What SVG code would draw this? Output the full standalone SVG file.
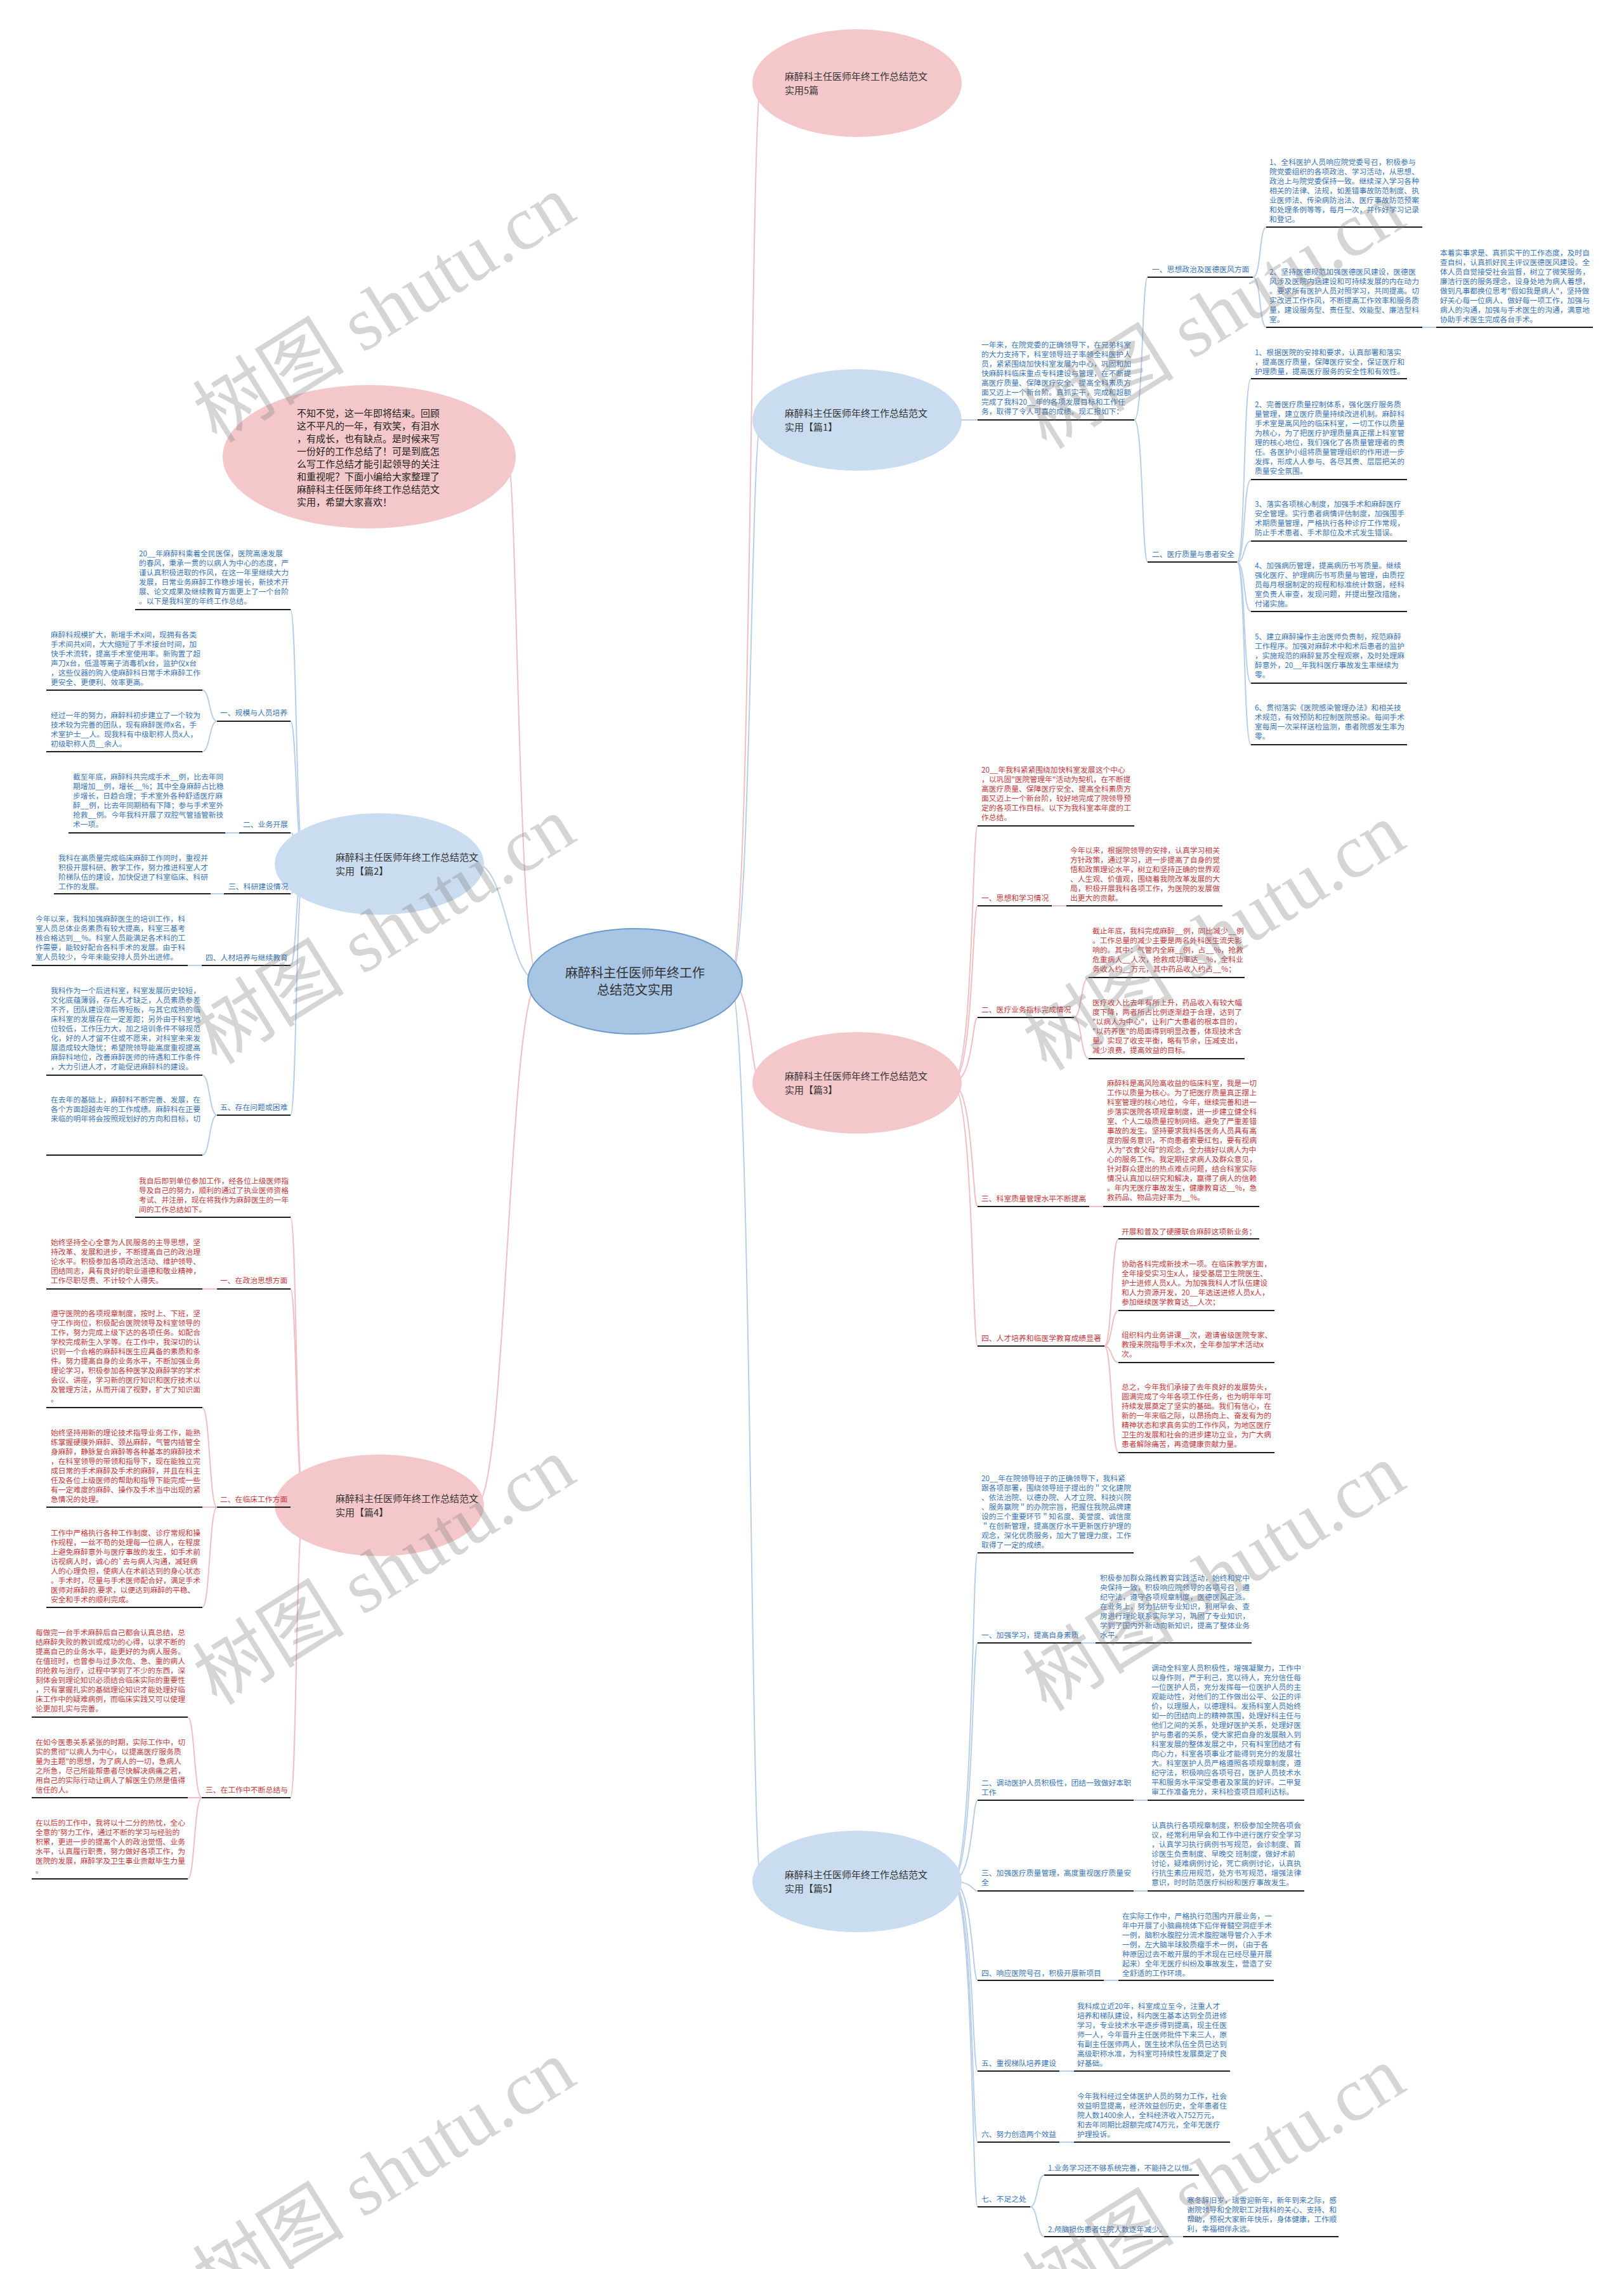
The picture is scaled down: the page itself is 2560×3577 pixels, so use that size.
<svg xmlns="http://www.w3.org/2000/svg" width="2560" height="3577" viewBox="0 0 2560 3577">
<style>
.t{font-family:"Noto Sans CJK SC","Noto Sans",sans-serif;font-size:11.8px}
.b{fill:#3a74b4}
.r{fill:#c4373d}
.u{stroke:#1e1e1e;stroke-width:2}
.cb{fill:none;stroke:#b9cfe7;stroke-width:2}
.cr{fill:none;stroke:#f0bfc2;stroke-width:2}
.on{font-family:"Noto Sans CJK SC","Noto Sans",sans-serif;font-size:15px;fill:#333}
.pk{fill:#f4c8cb}
.bl{fill:#cadcef}
.wm{font-size:120px;fill:#808080;fill-opacity:.33}
</style>
<rect width="2560" height="3577" fill="#ffffff"/>
<g id="connectors">
<path class="cr" d="M1150,1547 C1186,1547 1182,131 1200,131"/>
<path class="cb" d="M1150,1547 C1186,1547 1182,662 1200,662"/>
<path class="cr" d="M1150,1547 C1186,1547 1182,1707 1200,1707"/>
<path class="cb" d="M1150,1547 C1186,1547 1182,2966 1200,2966"/>
<path class="cr" d="M850,1547 C815,1547 816,720 800,720"/>
<path class="cb" d="M850,1547 C800,1547 800,1362 750,1362"/>
<path class="cr" d="M850,1547 C800,1547 800,2373 750,2373"/>
<path class="cb" d="M1500,662 L1541,662"/>
<path class="cb" d="M1788,662 C1802,662 1800,437 1809,437"/>
<path class="cb" d="M1788,662 C1802,662 1800,886 1809,886"/>
<path class="cb" d="M1975,437 C1988,437 1985,358 1996,358"/>
<path class="cb" d="M1975,437 C1988,437 1985,516 1996,516"/>
<path class="cb" d="M2242,516 L2264,516"/>
<path class="cb" d="M1950,886 C1963,886 1960,597 1972,597"/>
<path class="cb" d="M1950,886 C1963,886 1960,756 1972,756"/>
<path class="cb" d="M1950,886 C1963,886 1960,853 1972,853"/>
<path class="cb" d="M1950,886 C1963,886 1960,964 1972,964"/>
<path class="cb" d="M1950,886 C1963,886 1960,1077 1972,1077"/>
<path class="cb" d="M1950,886 C1963,886 1960,1174 1972,1174"/>
<path class="cb" d="M480,1362 C466,1362 468,961 458,961"/>
<path class="cb" d="M480,1362 C466,1362 468,1137 458,1137"/>
<path class="cb" d="M480,1362 C466,1362 468,1313 458,1313"/>
<path class="cb" d="M480,1362 C466,1362 468,1409 458,1409"/>
<path class="cb" d="M480,1362 C466,1362 468,1522 458,1522"/>
<path class="cb" d="M480,1362 C466,1362 468,1758 458,1758"/>
<path class="cb" d="M342,1137 C330,1137 331,1088 319,1088"/>
<path class="cb" d="M342,1137 C330,1137 331,1185 319,1185"/>
<path class="cb" d="M377,1313 L355,1313"/>
<path class="cb" d="M353,1409 L332,1409"/>
<path class="cb" d="M318,1522 L296,1522"/>
<path class="cb" d="M342,1758 C330,1758 331,1695 319,1695"/>
<path class="cb" d="M342,1758 C330,1758 331,1821 319,1821"/>
<path class="cr" d="M1500,1707 C1535,1707 1532,1302 1541,1302"/>
<path class="cr" d="M1500,1707 C1535,1707 1532,1428 1541,1428"/>
<path class="cr" d="M1500,1707 C1535,1707 1532,1604 1541,1604"/>
<path class="cr" d="M1500,1707 C1535,1707 1532,1902 1541,1902"/>
<path class="cr" d="M1500,1707 C1535,1707 1532,2122 1541,2122"/>
<path class="cr" d="M1658,1428 L1681,1428"/>
<path class="cr" d="M1693,1604 C1705,1604 1704,1541 1716,1541"/>
<path class="cr" d="M1693,1604 C1705,1604 1704,1669 1716,1669"/>
<path class="cr" d="M1717,1902 L1739,1902"/>
<path class="cr" d="M1741,2122 C1753,2122 1752,1953 1763,1953"/>
<path class="cr" d="M1741,2122 C1753,2122 1752,2066 1763,2066"/>
<path class="cr" d="M1741,2122 C1753,2122 1752,2148 1763,2148"/>
<path class="cr" d="M1741,2122 C1753,2122 1752,2290 1763,2290"/>
<path class="cr" d="M480,2373 C466,2373 468,1919 458,1919"/>
<path class="cr" d="M480,2373 C466,2373 468,2032 458,2032"/>
<path class="cr" d="M480,2373 C466,2373 468,2376 458,2376"/>
<path class="cr" d="M480,2373 C466,2373 468,2834 458,2834"/>
<path class="cr" d="M342,2032 L319,2032"/>
<path class="cr" d="M342,2376 C330,2376 331,2219 319,2219"/>
<path class="cr" d="M342,2376 L319,2376"/>
<path class="cr" d="M342,2376 C330,2376 331,2534 319,2534"/>
<path class="cr" d="M318,2834 C306,2834 307,2707 296,2707"/>
<path class="cr" d="M318,2834 L296,2834"/>
<path class="cr" d="M318,2834 C306,2834 307,2962 296,2962"/>
<path class="cb" d="M1500,2966 C1535,2966 1532,2448 1541,2448"/>
<path class="cb" d="M1500,2966 C1535,2966 1532,2590 1541,2590"/>
<path class="cb" d="M1500,2966 C1535,2966 1532,2838 1541,2838"/>
<path class="cb" d="M1500,2966 C1535,2966 1532,2981 1541,2981"/>
<path class="cb" d="M1500,2966 C1535,2966 1532,3122 1541,3122"/>
<path class="cb" d="M1500,2966 C1535,2966 1532,3265 1541,3265"/>
<path class="cb" d="M1500,2966 C1535,2966 1532,3377 1541,3377"/>
<path class="cb" d="M1500,2966 C1535,2966 1532,3479 1541,3479"/>
<path class="cb" d="M1704,2590 L1727,2590"/>
<path class="cb" d="M1787,2838 L1809,2838"/>
<path class="cb" d="M1787,2981 L1809,2981"/>
<path class="cb" d="M1740,3122 L1763,3122"/>
<path class="cb" d="M1670,3265 L1693,3265"/>
<path class="cb" d="M1670,3377 L1693,3377"/>
<path class="cb" d="M1624,3479 C1636,3479 1635,3429 1646,3429"/>
<path class="cb" d="M1624,3479 C1636,3479 1635,3526 1646,3526"/>
<path class="cb" d="M1842,3526 L1865,3526"/>
</g>

<g id="n-center">
<ellipse cx="1001" cy="1547" rx="169" ry="83" fill="#a8c6e4" stroke="#6e9bcb" stroke-width="2"/>
<text class="on" style="font-size:20px" text-anchor="middle" x="1001" y="1541"><tspan x="1001">麻醉科主任医师年终工作</tspan><tspan x="1001" dy="27">总结范文实用</tspan></text>
</g>
<g id="n-title">
<ellipse class="pk" cx="1351" cy="131" rx="165" ry="85"/>
<text class="on" x="1237" y="125.5"><tspan x="1237">麻醉科主任医师年终工作总结范文</tspan><tspan x="1237" dy="22">实用5篇</tspan></text>
</g>
<g id="n-intro">
<ellipse class="pk" cx="582" cy="720" rx="231" ry="113"/>
<text class="on" style="fill:#222" x="468" y="657"><tspan x="468">不知不觉，这一年即将结束。回顾</tspan><tspan x="468" dy="20">这不平凡的一年，有欢笑，有泪水</tspan><tspan x="468" dy="20">，有成长，也有缺点。是时候来写</tspan><tspan x="468" dy="20">一份好的工作总结了！可是到底怎</tspan><tspan x="468" dy="20">么写工作总结才能引起领导的关注</tspan><tspan x="468" dy="20">和重视呢？下面小编给大家整理了</tspan><tspan x="468" dy="20">麻醉科主任医师年终工作总结范文</tspan><tspan x="468" dy="20">实用，希望大家喜欢！</tspan></text>
</g>

<g id="n-p1">
<ellipse class="bl" cx="1351" cy="662" rx="165" ry="80"/>
<text class="on" x="1237" y="656.5"><tspan x="1237">麻醉科主任医师年终工作总结范文</tspan><tspan x="1237" dy="22">实用【篇1】</tspan></text>
</g>
<g id="n-p1-intro">
<text class="t b" x="1547" y="547.5"><tspan x="1547">一年来，在院党委的正确领导下，在兄弟科室</tspan><tspan x="1547" dy="15">的大力支持下，科室领导班子率领全科医护人</tspan><tspan x="1547" dy="15">员，紧紧围绕加快科室发展为中心，巩固和加</tspan><tspan x="1547" dy="15">快麻醉科临床重点专科建设与管理，在不断提</tspan><tspan x="1547" dy="15">高医疗质量、保障医疗安全、提高全科素质方</tspan><tspan x="1547" dy="15">面又迈上一个新台阶。真抓实干，完成和超额</tspan><tspan x="1547" dy="15">完成了我科20__年的各项发展目标和工作任</tspan><tspan x="1547" dy="15">务，取得了令人可喜的成绩。现汇报如下：</tspan></text>
<line class="u" x1="1541" y1="662" x2="1788" y2="662"/>
</g>
<g id="n-p1-s1">
<text class="t b" x="1816" y="428.5">一、思想政治及医德医风方面</text>
<line class="u" x1="1809" y1="437" x2="1975" y2="437"/>
</g>
<g id="n-p1-s1-1">
<text class="t b" x="2001" y="259.5"><tspan x="2001">1、全科医护人员响应院党委号召，积极参与</tspan><tspan x="2001" dy="15">院党委组织的各项政治、学习活动，从思想、</tspan><tspan x="2001" dy="15">政治上与院党委保持一致。继续深入学习各种</tspan><tspan x="2001" dy="15">相关的法律、法规，如差错事故防范制度、执</tspan><tspan x="2001" dy="15">业医师法、传染病防治法、医疗事故防范预案</tspan><tspan x="2001" dy="15">和处理条例等等，每月一次，并作好学习记录</tspan><tspan x="2001" dy="15">和登记。</tspan></text>
<line class="u" x1="1996" y1="358" x2="2242" y2="358"/>
</g>
<g id="n-p1-s1-2">
<text class="t b" x="2001" y="432.5"><tspan x="2001">2、坚持医德规范加强医德医风建设，医德医</tspan><tspan x="2001" dy="15">风涉及医院内涵建设和可持续发展的内在动力</tspan><tspan x="2001" dy="15">。要求所有医护人员对照学习，共同提高。切</tspan><tspan x="2001" dy="15">实改进工作作风，不断提高工作效率和服务质</tspan><tspan x="2001" dy="15">量，建设服务型、责任型、效能型、廉洁型科</tspan><tspan x="2001" dy="15">室。</tspan></text>
<line class="u" x1="1996" y1="516" x2="2242" y2="516"/>
</g>
<g id="n-p1-s1-2-1">
<text class="t b" x="2270" y="402.5"><tspan x="2270">本着实事求是、真抓实干的工作态度，及时自</tspan><tspan x="2270" dy="15">查自纠，认真抓好民主评议医德医风建设。全</tspan><tspan x="2270" dy="15">体人员自觉接受社会监督，树立了微笑服务，</tspan><tspan x="2270" dy="15">廉洁行医的服务理念，设身处地为病人着想，</tspan><tspan x="2270" dy="15">做到凡事都换位思考"假如我是病人"，坚持做</tspan><tspan x="2270" dy="15">好关心每一位病人、做好每一项工作，加强与</tspan><tspan x="2270" dy="15">病人的沟通，加强与手术医生的沟通，满意地</tspan><tspan x="2270" dy="15">协助手术医生完成各台手术。</tspan></text>
<line class="u" x1="2264" y1="516" x2="2511" y2="516"/>
</g>
<g id="n-p1-s2">
<text class="t b" x="1816" y="877.5">二、医疗质量与患者安全</text>
<line class="u" x1="1809" y1="886" x2="1950" y2="886"/>
</g>
<g id="n-p1-s2-items">
<text class="t b" x="1978" y="559.5"><tspan x="1978">1、根据医院的安排和要求，认真部署和落实</tspan><tspan x="1978" dy="15">，提高医疗质量，保障医疗安全，保证医疗和</tspan><tspan x="1978" dy="15">护理质量，提高医疗服务的安全性和有效性。</tspan></text>
<line class="u" x1="1972" y1="597" x2="2218" y2="597"/>
<text class="t b" x="1978" y="641.5"><tspan x="1978">2、完善医疗质量控制体系，强化医疗服务质</tspan><tspan x="1978" dy="15">量管理，建立医疗质量持续改进机制。麻醉科</tspan><tspan x="1978" dy="15">手术室是高风险的临床科室，一切工作以质量</tspan><tspan x="1978" dy="15">为核心，为了把医疗护理质量真正摆上科室管</tspan><tspan x="1978" dy="15">理的核心地位，我们强化了各质量管理者的责</tspan><tspan x="1978" dy="15">任。各医护小组将质量管理组织的作用进一步</tspan><tspan x="1978" dy="15">发挥，形成人人参与、各尽其责、层层把关的</tspan><tspan x="1978" dy="15">质量安全氛围。</tspan></text>
<line class="u" x1="1972" y1="756" x2="2218" y2="756"/>
<text class="t b" x="1978" y="798.5"><tspan x="1978">3、落实各项核心制度，加强手术和麻醉医疗</tspan><tspan x="1978" dy="15">安全管理。实行患者病情评估制度，加强围手</tspan><tspan x="1978" dy="15">术期质量管理，严格执行各种诊疗工作常规，</tspan><tspan x="1978" dy="15">防止手术患者、手术部位及术式发生错误。</tspan></text>
<line class="u" x1="1972" y1="853" x2="2218" y2="853"/>
<text class="t b" x="1978" y="895.5"><tspan x="1978">4、加强病历管理，提高病历书写质量。继续</tspan><tspan x="1978" dy="15">强化医疗、护理病历书写质量与管理，由质控</tspan><tspan x="1978" dy="15">员每月根据制定的规程和标准统计数据，经科</tspan><tspan x="1978" dy="15">室负责人审查，发现问题，并提出整改措施，</tspan><tspan x="1978" dy="15">付诸实施。</tspan></text>
<line class="u" x1="1972" y1="964" x2="2218" y2="964"/>
<text class="t b" x="1978" y="1007.5"><tspan x="1978">5、建立麻醉操作主治医师负责制，规范麻醉</tspan><tspan x="1978" dy="15">工作程序。加强对麻醉术中和术后患者的监护</tspan><tspan x="1978" dy="15">，实施规范的麻醉复苏全程观察，及时处理麻</tspan><tspan x="1978" dy="15">醉意外，20__年我科医疗事故发生率继续为</tspan><tspan x="1978" dy="15">零。</tspan></text>
<line class="u" x1="1972" y1="1077" x2="2218" y2="1077"/>
<text class="t b" x="1978" y="1119.5"><tspan x="1978">6、贯彻落实《医院感染管理办法》和相关技</tspan><tspan x="1978" dy="15">术规范，有效预防和控制医院感染。每间手术</tspan><tspan x="1978" dy="15">室每周一次采样送检监测，患者院感发生率为</tspan><tspan x="1978" dy="15">零。</tspan></text>
<line class="u" x1="1972" y1="1174" x2="2218" y2="1174"/>
</g>

<g id="n-p2">
<ellipse class="bl" cx="598" cy="1362" rx="165" ry="80"/>
<text class="on" x="529" y="1356.5"><tspan x="529">麻醉科主任医师年终工作总结范文</tspan><tspan x="529" dy="22">实用【篇2】</tspan></text>
</g>
<g id="n-p2-intro">
<text class="t b" x="219" y="876.5"><tspan x="219">20__年麻醉科乘着全民医保，医院高速发展</tspan><tspan x="219" dy="15">的春风，秉承一贯的以病人为中心的态度，严</tspan><tspan x="219" dy="15">谨认真积极进取的作风，在这一年里继续大力</tspan><tspan x="219" dy="15">发展，日常业务麻醉工作稳步增长，新技术开</tspan><tspan x="219" dy="15">展、论文成果及继续教育方面更上了一个台阶</tspan><tspan x="219" dy="15">。以下是我科室的年终工作总结。</tspan></text>
<line class="u" x1="213" y1="961" x2="458" y2="961"/>
</g>
<g id="n-p2-s1">
<text class="t b" x="347" y="1127.5">一、规模与人员培养</text>
<line class="u" x1="342" y1="1137" x2="458" y2="1137"/>
<text class="t b" x="80" y="1004.5"><tspan x="80">麻醉科规模扩大，新增手术x间，现拥有各类</tspan><tspan x="80" dy="15">手术间共x间，大大缩短了手术接台时间，加</tspan><tspan x="80" dy="15">快手术流转，提高手术室使用率。新购置了超</tspan><tspan x="80" dy="15">声刀x台，低温等离子消毒机x台，监护仪x台</tspan><tspan x="80" dy="15">，这些仪器的购入使麻醉科日常手术麻醉工作</tspan><tspan x="80" dy="15">更安全、更便利、效率更高。</tspan></text>
<line class="u" x1="73" y1="1088" x2="319" y2="1088"/>
<text class="t b" x="80" y="1131.5"><tspan x="80">经过一年的努力，麻醉科初步建立了一个较为</tspan><tspan x="80" dy="15">技术较为完善的团队，现有麻醉医师x名，手</tspan><tspan x="80" dy="15">术室护士__人。现我科有中级职称人员x人，</tspan><tspan x="80" dy="15">初级职称人员__余人。</tspan></text>
<line class="u" x1="73" y1="1185" x2="319" y2="1185"/>
</g>
<g id="n-p2-s2">
<text class="t b" x="383" y="1303.5">二、业务开展</text>
<line class="u" x1="377" y1="1313" x2="458" y2="1313"/>
<text class="t b" x="115" y="1228.5"><tspan x="115">截至年底，麻醉科共完成手术__例，比去年同</tspan><tspan x="115" dy="15">期增加__例，增长__%；其中全身麻醉占比稳</tspan><tspan x="115" dy="15">步增长，日趋合理；手术室外各种舒适医疗麻</tspan><tspan x="115" dy="15">醉__例，比去年同期稍有下降；参与手术室外</tspan><tspan x="115" dy="15">抢救__例。今年我科开展了双腔气管插管新技</tspan><tspan x="115" dy="15">术一项。</tspan></text>
<line class="u" x1="108" y1="1313" x2="355" y2="1313"/>
</g>
<g id="n-p2-s3">
<text class="t b" x="360" y="1401.5">三、科研建设情况</text>
<line class="u" x1="353" y1="1409" x2="458" y2="1409"/>
<text class="t b" x="92" y="1356.5"><tspan x="92">我科在高质量完成临床麻醉工作同时，重视并</tspan><tspan x="92" dy="15">积极开展科研、教学工作，努力推进科室人才</tspan><tspan x="92" dy="15">阶梯队伍的建设，加快促进了科室临床、科研</tspan><tspan x="92" dy="15">工作的发展。</tspan></text>
<line class="u" x1="85" y1="1409" x2="332" y2="1409"/>
</g>
<g id="n-p2-s4">
<text class="t b" x="324" y="1513.5">四、人材培养与继续教育</text>
<line class="u" x1="318" y1="1522" x2="458" y2="1522"/>
<text class="t b" x="56" y="1452.5"><tspan x="56">今年以来，我科加强麻醉医生的培训工作，科</tspan><tspan x="56" dy="15">室人员总体业务素质有较大提高，科室三基考</tspan><tspan x="56" dy="15">核合格达到__%。科室人员能满足各术科的工</tspan><tspan x="56" dy="15">作需要，能较好配合各科手术的发展。由于科</tspan><tspan x="56" dy="15">室人员较少，今年未能安排人员外出进修。</tspan></text>
<line class="u" x1="50" y1="1522" x2="296" y2="1522"/>
</g>
<g id="n-p2-s5">
<text class="t b" x="347" y="1749.5">五、存在问题或困难</text>
<line class="u" x1="342" y1="1758" x2="458" y2="1758"/>
<text class="t b" x="80" y="1565.5"><tspan x="80">我科作为一个后进科室，科室发展历史较短，</tspan><tspan x="80" dy="15">文化底蕴薄弱，存在人才缺乏，人员素质参差</tspan><tspan x="80" dy="15">不齐，团队建设滞后等短板，与其它成熟的临</tspan><tspan x="80" dy="15">床科室的发展存在一定差距；另外由于科室地</tspan><tspan x="80" dy="15">位较低，工作压力大，加之培训条件不够规范</tspan><tspan x="80" dy="15">化，好的人才留不住或不愿来，对科室未来发</tspan><tspan x="80" dy="15">展造成较大隐忧；希望院领导能高度重视提高</tspan><tspan x="80" dy="15">麻醉科地位，改善麻醉医师的待遇和工作条件</tspan><tspan x="80" dy="15">，大力引进人才，才能促进麻醉科的建设。</tspan></text>
<line class="u" x1="73" y1="1695" x2="319" y2="1695"/>
<text class="t b" x="80" y="1737.5"><tspan x="80">在去年的基础上，麻醉科不断完善、发展，在</tspan><tspan x="80" dy="15">各个方面超越去年的工作成绩。麻醉科在正要</tspan><tspan x="80" dy="15">来临的明年将会按照规划好的方向和目标，切</tspan></text>
<line class="u" x1="73" y1="1821" x2="319" y2="1821"/>
</g>

<g id="n-p3">
<ellipse class="pk" cx="1351" cy="1707" rx="165" ry="80"/>
<text class="on" x="1237" y="1701.5"><tspan x="1237">麻醉科主任医师年终工作总结范文</tspan><tspan x="1237" dy="22">实用【篇3】</tspan></text>
</g>
<g id="n-p3-intro">
<text class="t r" x="1547" y="1217.5"><tspan x="1547">20__年我科紧紧围绕加快科室发展这个中心</tspan><tspan x="1547" dy="15">，以巩固"医院管理年"活动为契机，在不断提</tspan><tspan x="1547" dy="15">高医疗质量、保障医疗安全、提高全科素质方</tspan><tspan x="1547" dy="15">面又迈上一个新台阶，较好地完成了院领导预</tspan><tspan x="1547" dy="15">定的各项工作目标。以下为我科室本年度的工</tspan><tspan x="1547" dy="15">作总结。</tspan></text>
<line class="u" x1="1541" y1="1302" x2="1788" y2="1302"/>
</g>
<g id="n-p3-s1">
<text class="t r" x="1547" y="1419.5">一、思想和学习情况</text>
<line class="u" x1="1541" y1="1428" x2="1658" y2="1428"/>
<text class="t r" x="1687" y="1344.5"><tspan x="1687">今年以来，根据院领导的安排，认真学习相关</tspan><tspan x="1687" dy="15">方针政策，通过学习，进一步提高了自身的觉</tspan><tspan x="1687" dy="15">悟和政策理论水平，树立和坚持正确的世界观</tspan><tspan x="1687" dy="15">、人生观、价值观，围绕着我院改革发展的大</tspan><tspan x="1687" dy="15">局，积极开展我科各项工作，为医院的发展做</tspan><tspan x="1687" dy="15">出更大的贡献。</tspan></text>
<line class="u" x1="1681" y1="1428" x2="1927" y2="1428"/>
</g>
<g id="n-p3-s2">
<text class="t r" x="1547" y="1595.5">二、医疗业务指标完成情况</text>
<line class="u" x1="1541" y1="1604" x2="1693" y2="1604"/>
<text class="t r" x="1722" y="1471.5"><tspan x="1722">截止年底，我科完成麻醉__例，同比减少__例</tspan><tspan x="1722" dy="15">。工作总量的减少主要是两名外科医生流失影</tspan><tspan x="1722" dy="15">响的。其中：气管内全麻__例，占__%，抢救</tspan><tspan x="1722" dy="15">危重病人__人次，抢救成功率达__%，全科业</tspan><tspan x="1722" dy="15">务收入约__万元，其中药品收入约占__%；</tspan></text>
<line class="u" x1="1716" y1="1541" x2="1962" y2="1541"/>
<text class="t r" x="1722" y="1584.5"><tspan x="1722">医疗收入比去年有所上升，药品收入有较大幅</tspan><tspan x="1722" dy="15">度下降，两者所占比例逐渐趋于合理，达到了</tspan><tspan x="1722" dy="15">"以病人为中心"，让利广大患者的根本目的，</tspan><tspan x="1722" dy="15">"以药养医"的局面得到明显改善，体现技术含</tspan><tspan x="1722" dy="15">量。实现了收支平衡，略有节余，压减支出，</tspan><tspan x="1722" dy="15">减少浪费，提高效益的目标。</tspan></text>
<line class="u" x1="1716" y1="1669" x2="1962" y2="1669"/>
</g>
<g id="n-p3-s3">
<text class="t r" x="1547" y="1893.5">三、科室质量管理水平不断提高</text>
<line class="u" x1="1541" y1="1902" x2="1717" y2="1902"/>
<text class="t r" x="1745" y="1711.5"><tspan x="1745">麻醉科是高风险高收益的临床科室，我是一切</tspan><tspan x="1745" dy="15">工作以质量为核心。为了把医疗质量真正摆上</tspan><tspan x="1745" dy="15">科室管理的核心地位，今年，继续完善和进一</tspan><tspan x="1745" dy="15">步落实医院各项规章制度，进一步建立健全科</tspan><tspan x="1745" dy="15">室、个人二级质量控制网络。避免了严重差错</tspan><tspan x="1745" dy="15">事故的发生。坚持要求我科各医务人员具有高</tspan><tspan x="1745" dy="15">度的服务意识，不向患者索要红包，要有视病</tspan><tspan x="1745" dy="15">人为"衣食父母"的观念，全力搞好以病人为中</tspan><tspan x="1745" dy="15">心的服务工作。我定期征求病人及群众意见，</tspan><tspan x="1745" dy="15">针对群众提出的热点难点问题，结合科室实际</tspan><tspan x="1745" dy="15">情况认真加以研究和解决，赢得了病人的信赖</tspan><tspan x="1745" dy="15">。年内无医疗事故发生，健康教育达__%，急</tspan><tspan x="1745" dy="15">救药品、物品完好率为__%。</tspan></text>
<line class="u" x1="1739" y1="1902" x2="1985" y2="1902"/>
</g>
<g id="n-p3-s4">
<text class="t r" x="1547" y="2113.5">四、人才培养和临医学教育成绩显著</text>
<line class="u" x1="1541" y1="2122" x2="1741" y2="2122"/>
<text class="t r" x="1768" y="1945.5">开展和普及了硬腰联合麻醉这项新业务；</text>
<line class="u" x1="1763" y1="1953" x2="1985" y2="1953"/>
<text class="t r" x="1768" y="1996.5"><tspan x="1768">协助各科完成新技术一项。在临床教学方面，</tspan><tspan x="1768" dy="15">全年接受实习生x人，接受基层卫生院医生、</tspan><tspan x="1768" dy="15">护士进修人员x人。为加强我科人才队伍建设</tspan><tspan x="1768" dy="15">和人力资源开发，20__年选送进修人员x人，</tspan><tspan x="1768" dy="15">参加继续医学教育达__人次；</tspan></text>
<line class="u" x1="1763" y1="2066" x2="2009" y2="2066"/>
<text class="t r" x="1768" y="2108.5"><tspan x="1768">组织科内业务讲课__次，邀请省级医院专家、</tspan><tspan x="1768" dy="15">教授来院指导手术x次，全年参加学术活动x</tspan><tspan x="1768" dy="15">次。</tspan></text>
<line class="u" x1="1763" y1="2148" x2="2009" y2="2148"/>
<text class="t r" x="1768" y="2190.5"><tspan x="1768">总之，今年我们承接了去年良好的发展势头，</tspan><tspan x="1768" dy="15">圆满完成了今年各项工作任务，也为明年年可</tspan><tspan x="1768" dy="15">持续发展奠定了坚实的基础。我们有信心，在</tspan><tspan x="1768" dy="15">新的一年来临之际，以昂扬向上、奋发有为的</tspan><tspan x="1768" dy="15">精神状态和求真务实的工作作风，为地区医疗</tspan><tspan x="1768" dy="15">卫生的发展和社会的进步建功立业，为广大病</tspan><tspan x="1768" dy="15">患者解除痛苦，再造健康贡献力量。</tspan></text>
<line class="u" x1="1763" y1="2290" x2="2009" y2="2290"/>
</g>

<g id="n-p4">
<ellipse class="pk" cx="598" cy="2373" rx="165" ry="80"/>
<text class="on" x="529" y="2367.5"><tspan x="529">麻醉科主任医师年终工作总结范文</tspan><tspan x="529" dy="22">实用【篇4】</tspan></text>
</g>
<g id="n-p4-intro">
<text class="t r" x="219" y="1865.5"><tspan x="219">我自后即到单位参加工作，经各位上级医师指</tspan><tspan x="219" dy="15">导及自己的努力，顺利的通过了执业医师资格</tspan><tspan x="219" dy="15">考试、并注册，现在将我作为麻醉医生的一年</tspan><tspan x="219" dy="15">间的工作总结如下。</tspan></text>
<line class="u" x1="213" y1="1919" x2="458" y2="1919"/>
</g>
<g id="n-p4-s1">
<text class="t r" x="347" y="2022.5">一、在政治思想方面</text>
<line class="u" x1="342" y1="2032" x2="458" y2="2032"/>
<text class="t r" x="80" y="1962.5"><tspan x="80">始终坚持全心全意为人民服务的主导思想，坚</tspan><tspan x="80" dy="15">持改革、发展和进步，不断提高自己的政治理</tspan><tspan x="80" dy="15">论水平。积极参加各项政治活动、维护领导、</tspan><tspan x="80" dy="15">团结同志，具有良好的职业道德和敬业精神，</tspan><tspan x="80" dy="15">工作尽职尽责、不计较个人得失。</tspan></text>
<line class="u" x1="73" y1="2032" x2="319" y2="2032"/>
</g>
<g id="n-p4-s2">
<text class="t r" x="347" y="2367.5">二、在临床工作方面</text>
<line class="u" x1="342" y1="2376" x2="458" y2="2376"/>
<text class="t r" x="80" y="2074.5"><tspan x="80">遵守医院的各项规章制度，按时上、下班，坚</tspan><tspan x="80" dy="15">守工作岗位，积极配合医院领导及科室领导的</tspan><tspan x="80" dy="15">工作，努力完成上级下达的各项任务。如配合</tspan><tspan x="80" dy="15">学校完成新生入学等。在工作中，我深切的认</tspan><tspan x="80" dy="15">识到一个合格的麻醉科医生应具备的素质和条</tspan><tspan x="80" dy="15">件。努力提高自身的业务水平，不断加强业务</tspan><tspan x="80" dy="15">理论学习，积极参加各种医学及麻醉学的学术</tspan><tspan x="80" dy="15">会议、讲座，学习新的医疗知识和医疗技术以</tspan><tspan x="80" dy="15">及管理方法，从而开阔了视野，扩大了知识面</tspan><tspan x="80" dy="15">。</tspan></text>
<line class="u" x1="73" y1="2219" x2="319" y2="2219"/>
<text class="t r" x="80" y="2262.5"><tspan x="80">始终坚持用新的理论技术指导业务工作，能熟</tspan><tspan x="80" dy="15">练掌握硬膜外麻醉、颈丛麻醉，气管内插管全</tspan><tspan x="80" dy="15">身麻醉，静脉复合麻醉等各种基本的麻醉技术</tspan><tspan x="80" dy="15">，在科室领导的带领和指导下，现在能独立完</tspan><tspan x="80" dy="15">成日常的手术麻醉及手术的麻醉，并且在科主</tspan><tspan x="80" dy="15">任及各位上级医师的帮助和指导下能完成一些</tspan><tspan x="80" dy="15">有一定难度的麻醉、操作及手术当中出现的紧</tspan><tspan x="80" dy="15">急情况的处理。</tspan></text>
<line class="u" x1="73" y1="2376" x2="319" y2="2376"/>
<text class="t r" x="80" y="2420.5"><tspan x="80">工作中严格执行各种工作制度、诊疗常规和操</tspan><tspan x="80" dy="15">作规程，一丝不苟的处理每一位病人，在程度</tspan><tspan x="80" dy="15">上避免麻醉意外与医疗事故的发生，如手术前</tspan><tspan x="80" dy="15">访视病人时，诚心的`去与病人沟通，减轻病</tspan><tspan x="80" dy="15">人的心理负担，使病人在术前达到的身心状态</tspan><tspan x="80" dy="15">。手术时，尽量与手术医师配合好，满足手术</tspan><tspan x="80" dy="15">医师对麻醉的.要求，以便达到麻醉的平稳、</tspan><tspan x="80" dy="15">安全和手术的顺利完成。</tspan></text>
<line class="u" x1="73" y1="2534" x2="319" y2="2534"/>
</g>
<g id="n-p4-s3">
<text class="t r" x="324" y="2825.5">三、在工作中不断总结与</text>
<line class="u" x1="318" y1="2834" x2="458" y2="2834"/>
<text class="t r" x="56" y="2577.5"><tspan x="56">每做完一台手术麻醉后自己都会认真总结，总</tspan><tspan x="56" dy="15">结麻醉失败的教训或成功的心得，以求不断的</tspan><tspan x="56" dy="15">提高自己的业务水平，能更好的为病人服务。</tspan><tspan x="56" dy="15">在值班时，也曾参与过多次危、急、重的病人</tspan><tspan x="56" dy="15">的抢救与治疗，过程中学到了不少的东西，深</tspan><tspan x="56" dy="15">刻体会到理论知识必须结合临床实际的重要性</tspan><tspan x="56" dy="15">，只有掌握扎实的基础理论知识才能处理好临</tspan><tspan x="56" dy="15">床工作中的疑难病例，而临床实践又可以使理</tspan><tspan x="56" dy="15">论更加扎实与完善。</tspan></text>
<line class="u" x1="50" y1="2707" x2="296" y2="2707"/>
<text class="t r" x="56" y="2750.5"><tspan x="56">在如今医患关系紧张的时期，实际工作中，切</tspan><tspan x="56" dy="15">实的贯彻"以病人为中心，以提高医疗服务质</tspan><tspan x="56" dy="15">量为主题"的思想，为了病人的一切，急病人</tspan><tspan x="56" dy="15">之所急，尽己所能帮患者尽快解决病痛之若，</tspan><tspan x="56" dy="15">用自己的实际行动让病人了解医生仍然是值得</tspan><tspan x="56" dy="15">信任的人。</tspan></text>
<line class="u" x1="50" y1="2834" x2="296" y2="2834"/>
<text class="t r" x="56" y="2877.5"><tspan x="56">在以后的工作中，我将以十二分的热忱，全心</tspan><tspan x="56" dy="15">全意的'努力工作，通过不断的学习与经验的</tspan><tspan x="56" dy="15">积累，更进一步的提高个人的政治觉悟、业务</tspan><tspan x="56" dy="15">水平，认真履行职责，努力做好各项工作，为</tspan><tspan x="56" dy="15">医院的发展，麻醉学及卫生事业贡献毕生力量</tspan><tspan x="56" dy="15">。</tspan></text>
<line class="u" x1="50" y1="2962" x2="296" y2="2962"/>
</g>

<g id="n-p5">
<ellipse class="bl" cx="1351" cy="2966" rx="165" ry="80"/>
<text class="on" x="1237" y="2960.5"><tspan x="1237">麻醉科主任医师年终工作总结范文</tspan><tspan x="1237" dy="22">实用【篇5】</tspan></text>
</g>
<g id="n-p5-intro">
<text class="t b" x="1547" y="2334.5"><tspan x="1547">20__年在院领导班子的正确领导下，我科紧</tspan><tspan x="1547" dy="15">跟各项部署，围绕领导班子提出的＂文化建院</tspan><tspan x="1547" dy="15">、依法治院、以德办院、人才立院、科技兴院</tspan><tspan x="1547" dy="15">、服务赢院＂的办院宗旨，把握住我院品牌建</tspan><tspan x="1547" dy="15">设的三个重要环节＂知名度、美誉度、诚信度</tspan><tspan x="1547" dy="15">＂在创新管理，提高医疗水平更新医疗护理的</tspan><tspan x="1547" dy="15">观念，深化优质服务，加大了管理力度，工作</tspan><tspan x="1547" dy="15">取得了一定的成绩。</tspan></text>
<line class="u" x1="1541" y1="2448" x2="1787" y2="2448"/>
</g>
<g id="n-p5-s1">
<text class="t b" x="1547" y="2581.5">一、加强学习，提高自身素质</text>
<line class="u" x1="1541" y1="2590" x2="1704" y2="2590"/>
<text class="t b" x="1734" y="2491.5"><tspan x="1734">积极参加群众路线教育实践活动，始终和党中</tspan><tspan x="1734" dy="15">央保持一致，积极响应院领导的各项号召，遵</tspan><tspan x="1734" dy="15">纪守法，遵守各项规章制度，医德医风正派。</tspan><tspan x="1734" dy="15">在业务上，努力钻研专业知识，利用早会、查</tspan><tspan x="1734" dy="15">房进行理论联系实际学习，巩固了专业知识，</tspan><tspan x="1734" dy="15">学到了国内外新动向新知识，提高了整体业务</tspan><tspan x="1734" dy="15">水平。</tspan></text>
<line class="u" x1="1727" y1="2590" x2="1973" y2="2590"/>
</g>
<g id="n-p5-s2">
<text class="t b" x="1547" y="2814.5"><tspan x="1547">二、调动医护人员积极性，团结一致做好本职</tspan><tspan x="1547" dy="15">工作</tspan></text>
<line class="u" x1="1541" y1="2838" x2="1787" y2="2838"/>
<text class="t b" x="1815" y="2633.5"><tspan x="1815">调动全科室人员积极性，增强凝聚力，工作中</tspan><tspan x="1815" dy="15">以身作则，严于利己，宽以待人，充分信任每</tspan><tspan x="1815" dy="15">一位医护人员，充分发挥每一位医护人员的主</tspan><tspan x="1815" dy="15">观能动性，对他们的工作做出公平、公正的评</tspan><tspan x="1815" dy="15">价，以理服人，以德理科。发扬科室人员始终</tspan><tspan x="1815" dy="15">如一的团结向上的精神氛围，处理好科主任与</tspan><tspan x="1815" dy="15">他们之间的关系，处理好医护关系，处理好医</tspan><tspan x="1815" dy="15">护与患者的关系，使大家把自身的发展融入到</tspan><tspan x="1815" dy="15">科室发展的整体发展之中，只有科室团结才有</tspan><tspan x="1815" dy="15">向心力，科室各项事业才能得到充分的发展壮</tspan><tspan x="1815" dy="15">大。科室医护人员严格遵照各项规章制度，遵</tspan><tspan x="1815" dy="15">纪守法，积极响应各项号召，医护人员技术水</tspan><tspan x="1815" dy="15">平和服务水平深受患者及家属的好评。二甲复</tspan><tspan x="1815" dy="15">审工作准备充分，来科检查项目顺利达标。</tspan></text>
<line class="u" x1="1809" y1="2838" x2="2056" y2="2838"/>
</g>
<g id="n-p5-s3">
<text class="t b" x="1547" y="2956.5"><tspan x="1547">三、加强医疗质量管理，高度重视医疗质量安</tspan><tspan x="1547" dy="15">全</tspan></text>
<line class="u" x1="1541" y1="2981" x2="1787" y2="2981"/>
<text class="t b" x="1815" y="2881.5"><tspan x="1815">认真执行各项规章制度，积极参加全院各项会</tspan><tspan x="1815" dy="15">议，经常利用早会和工作中进行医疗安全学习</tspan><tspan x="1815" dy="15">，认真学习执行病例书写规范，会诊制度、首</tspan><tspan x="1815" dy="15">诊医生负责制度、早晚交 班制度，做好术前</tspan><tspan x="1815" dy="15">讨论，疑难病例讨论，死亡病例讨论，认真执</tspan><tspan x="1815" dy="15">行抗生素应用规范，处方书写规范，增强法律</tspan><tspan x="1815" dy="15">意识，时时防范医疗纠纷和医疗事故发生。</tspan></text>
<line class="u" x1="1809" y1="2981" x2="2056" y2="2981"/>
</g>
<g id="n-p5-s4">
<text class="t b" x="1547" y="3114.5">四、响应医院号召，积极开展新项目</text>
<line class="u" x1="1541" y1="3122" x2="1740" y2="3122"/>
<text class="t b" x="1769" y="3024.5"><tspan x="1769">在实际工作中，严格执行范围内开展业务，一</tspan><tspan x="1769" dy="15">年中开展了小脑扁桃体下疝伴脊髓空洞症手术</tspan><tspan x="1769" dy="15">一例，脑积水腹腔分流术腹腔端导管介入手术</tspan><tspan x="1769" dy="15">一例，左大脑半球胶质瘤手术一例，（由于各</tspan><tspan x="1769" dy="15">种原因过去不敢开展的手术现在已经尽量开展</tspan><tspan x="1769" dy="15">起来）全年无医疗纠纷及事故发生，营造了安</tspan><tspan x="1769" dy="15">全舒适的工作环境。</tspan></text>
<line class="u" x1="1763" y1="3122" x2="2008" y2="3122"/>
</g>
<g id="n-p5-s5">
<text class="t b" x="1547" y="3256.5">五、重视梯队培养建设</text>
<line class="u" x1="1541" y1="3265" x2="1670" y2="3265"/>
<text class="t b" x="1698" y="3166.5"><tspan x="1698">我科成立近20年，科室成立至今，注重人才</tspan><tspan x="1698" dy="15">培养和梯队建设，科内医生基本达到全员进修</tspan><tspan x="1698" dy="15">学习，专业技术水平逐步得到提高，现主任医</tspan><tspan x="1698" dy="15">师一人，今年晋升主任医师批件下来三人，原</tspan><tspan x="1698" dy="15">有副主任医师两人，医生技术队伍全员已达到</tspan><tspan x="1698" dy="15">高级职称水准，为科室可持续性发展奠定了良</tspan><tspan x="1698" dy="15">好基础。</tspan></text>
<line class="u" x1="1693" y1="3265" x2="1939" y2="3265"/>
</g>
<g id="n-p5-s6">
<text class="t b" x="1547" y="3368.5">六、努力创造两个效益</text>
<line class="u" x1="1541" y1="3377" x2="1670" y2="3377"/>
<text class="t b" x="1698" y="3308.5"><tspan x="1698">今年我科经过全体医护人员的努力工作，社会</tspan><tspan x="1698" dy="15">效益明显提高，经济效益创历史，全年患者住</tspan><tspan x="1698" dy="15">院人数1400余人，全科经济收入752万元，</tspan><tspan x="1698" dy="15">和去年同期比超额完成74万元，全年无医疗</tspan><tspan x="1698" dy="15">护理投诉。</tspan></text>
<line class="u" x1="1693" y1="3377" x2="1939" y2="3377"/>
</g>
<g id="n-p5-s7">
<text class="t b" x="1547" y="3470.5">七、不足之处</text>
<line class="u" x1="1541" y1="3479" x2="1624" y2="3479"/>
<text class="t b" x="1652" y="3421.5">1.业务学习还不够系统完善，不能持之以恒。</text>
<line class="u" x1="1646" y1="3429" x2="1890" y2="3429"/>
<text class="t b" x="1652" y="3518.5">2.颅脑损伤患者住院人数逐年减少。</text>
<line class="u" x1="1646" y1="3526" x2="1842" y2="3526"/>
<text class="t b" x="1871" y="3472.5"><tspan x="1871">寒冬辞旧岁，瑞雪迎新年，新年到来之际，感</tspan><tspan x="1871" dy="15">谢院领导和全院职工对我科的关心、支持、和</tspan><tspan x="1871" dy="15">帮助，预祝大家新年快乐，身体健康，工作顺</tspan><tspan x="1871" dy="15">利，幸福相伴永远。</tspan></text>
<line class="u" x1="1865" y1="3526" x2="2110" y2="3526"/>
</g>

<g id="watermark">
<text class="wm" transform="translate(342,700) rotate(-32)"><tspan font-family="Noto Sans CJK SC,sans-serif">树图</tspan><tspan font-family="Liberation Serif,serif"> shutu.cn</tspan></text>
<text class="wm" transform="translate(1650,710) rotate(-32)"><tspan font-family="Noto Sans CJK SC,sans-serif">树图</tspan><tspan font-family="Liberation Serif,serif"> shutu.cn</tspan></text>
<text class="wm" transform="translate(342,1680) rotate(-32)"><tspan font-family="Noto Sans CJK SC,sans-serif">树图</tspan><tspan font-family="Liberation Serif,serif"> shutu.cn</tspan></text>
<text class="wm" transform="translate(1650,1690) rotate(-32)"><tspan font-family="Noto Sans CJK SC,sans-serif">树图</tspan><tspan font-family="Liberation Serif,serif"> shutu.cn</tspan></text>
<text class="wm" transform="translate(342,2690) rotate(-32)"><tspan font-family="Noto Sans CJK SC,sans-serif">树图</tspan><tspan font-family="Liberation Serif,serif"> shutu.cn</tspan></text>
<text class="wm" transform="translate(1650,2700) rotate(-32)"><tspan font-family="Noto Sans CJK SC,sans-serif">树图</tspan><tspan font-family="Liberation Serif,serif"> shutu.cn</tspan></text>
<text class="wm" transform="translate(342,3640) rotate(-32)"><tspan font-family="Noto Sans CJK SC,sans-serif">树图</tspan><tspan font-family="Liberation Serif,serif"> shutu.cn</tspan></text>
<text class="wm" transform="translate(1650,3650) rotate(-32)"><tspan font-family="Noto Sans CJK SC,sans-serif">树图</tspan><tspan font-family="Liberation Serif,serif"> shutu.cn</tspan></text>
</g>
</svg>
